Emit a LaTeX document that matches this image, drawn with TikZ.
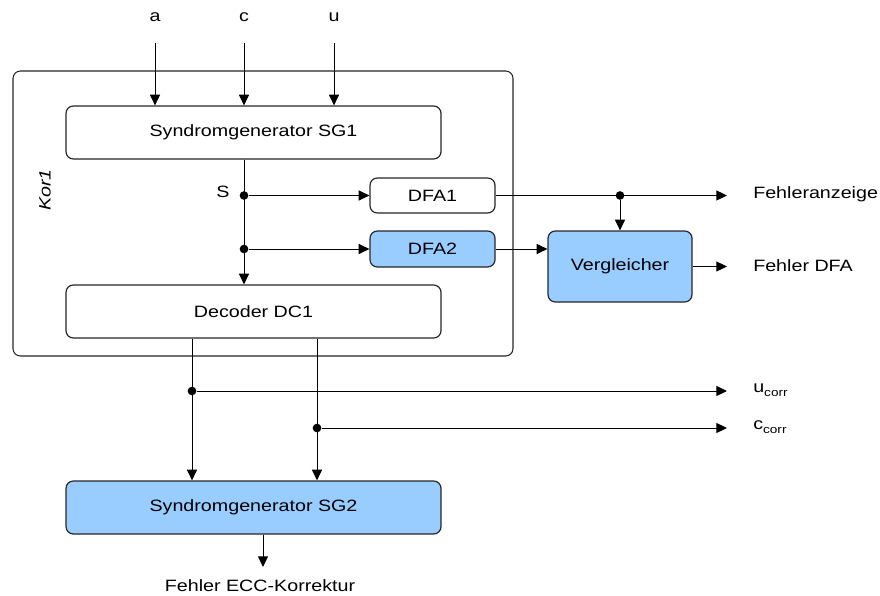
\documentclass[tikz,border=0pt]{standalone}
\usepackage{fontspec}
\setmainfont[FakeStretch=1.2]{Liberation Sans}
\usetikzlibrary{arrows.meta}
\definecolor{boxblue}{HTML}{99CCFF}
\begin{document}
\begin{tikzpicture}[x=0.75pt,y=-0.75pt,
  every node/.style={font=\fontsize{12.3}{14}\selectfont, inner sep=0pt},
  blk/.style={draw=black!85, line width=0.9pt, rounded corners=5.5pt, fill=white},
  blue/.style={blk, fill=boxblue},
  arr/.style={-{Triangle[length=8pt,width=7.5pt]}, line width=0.75pt},
  dot/.style={circle, fill=black, minimum size=6.5pt, inner sep=0pt},
  lbl/.style={anchor=west}]
\useasboundingbox (0,0) rectangle (880,595);

% outer block Kor1
\node[blk, line width=0.8pt, minimum width=500*0.75pt, minimum height=285*0.75pt] (kor) at (263,213.5) {};
\node[rotate=90, font=\fontsize{12.3}{14}\selectfont\itshape] (korlbl) at (45,190) {Kor1};

% blocks
\node[blk, minimum width=375*0.75pt, minimum height=53*0.75pt] (sg1) at (253.5,132.5) {Syndromgenerator SG1};
\node[blk, minimum width=125*0.75pt, minimum height=35*0.75pt] (dfa1) at (432.5,195.5) {DFA1};
\node[blue, minimum width=125*0.75pt, minimum height=36*0.75pt] (dfa2) at (432.5,249) {DFA2};
\node[blue, minimum width=144*0.75pt, minimum height=71*0.75pt] (verg) at (620,266.5) {Vergleicher};
\node[blk, minimum width=375*0.75pt, minimum height=53*0.75pt] (dc1) at (253.5,311.5) {Decoder DC1};
\node[blue, minimum width=375*0.75pt, minimum height=53*0.75pt] (sg2) at (253.5,507.5) {Syndromgenerator SG2};

% inputs
\node (la) at (155,17) {a};
\node (lc) at (244,17) {c};
\node (lu) at (334,17) {u};
\coordinate (ia) at (155,43);
\coordinate (ic) at (244,43);
\coordinate (iu) at (334,43);
\draw[arr] (ia) -- (ia |- sg1.north);
\draw[arr] (ic) -- (ic |- sg1.north);
\draw[arr] (iu) -- (iu |- sg1.north);

% syndrome bus S
\coordinate (s1) at (244,195.5);
\coordinate (s2) at (244,249);
\draw[arr] (s1 |- sg1.south) -- (s1 |- dc1.north);
\node (ls) at (223,192) {S};
\node[dot] (d1) at (s1) {};
\node[dot] (d2) at (s2) {};
\draw[arr] (d1) -- (dfa1.west);
\draw[arr] (d2) -- (dfa2.west);

% DFA outputs
\coordinate (fa) at (727,195.5);
\coordinate (j1) at (620,195.5);
\draw[arr] (dfa1.east) -- (fa);
\node[dot] (d3) at (j1) {};
\draw[arr] (d3) -- (verg.north);
\draw[arr] (dfa2.east) -- (verg.west |- dfa2.east);
\coordinate (fd) at (727,266.5);
\draw[arr] (verg.east) -- (fd);
\node[lbl] (lfa) at (753,194) {Fehleranzeige};
\node[lbl] (lfd) at (753,266) {Fehler DFA};

% corrected outputs
\coordinate (u1) at (192,391);
\coordinate (c1) at (317,428);
\draw[arr] (u1 |- dc1.south) -- (u1 |- sg2.north);
\draw[arr] (c1 |- dc1.south) -- (c1 |- sg2.north);
\node[dot] (d4) at (u1) {};
\node[dot] (d5) at (c1) {};
\coordinate (uo) at (727,391);
\coordinate (co) at (727,428);
\draw[arr] (d4) -- (uo);
\draw[arr] (d5) -- (co);
\node[lbl] (lu2) at (753,390) {u\raisebox{-0.5ex}{\fontsize{8.5}{9}\selectfont corr}};
\node[lbl] (lc2) at (753,427) {c\raisebox{-0.5ex}{\fontsize{8.5}{9}\selectfont corr}};

% SG2 output
\coordinate (eo) at (263,567);
\draw[arr] (sg2.south -| eo) -- (eo);
\node (lecc) at (260,586) {Fehler ECC-Korrektur};
\end{tikzpicture}
\end{document}
